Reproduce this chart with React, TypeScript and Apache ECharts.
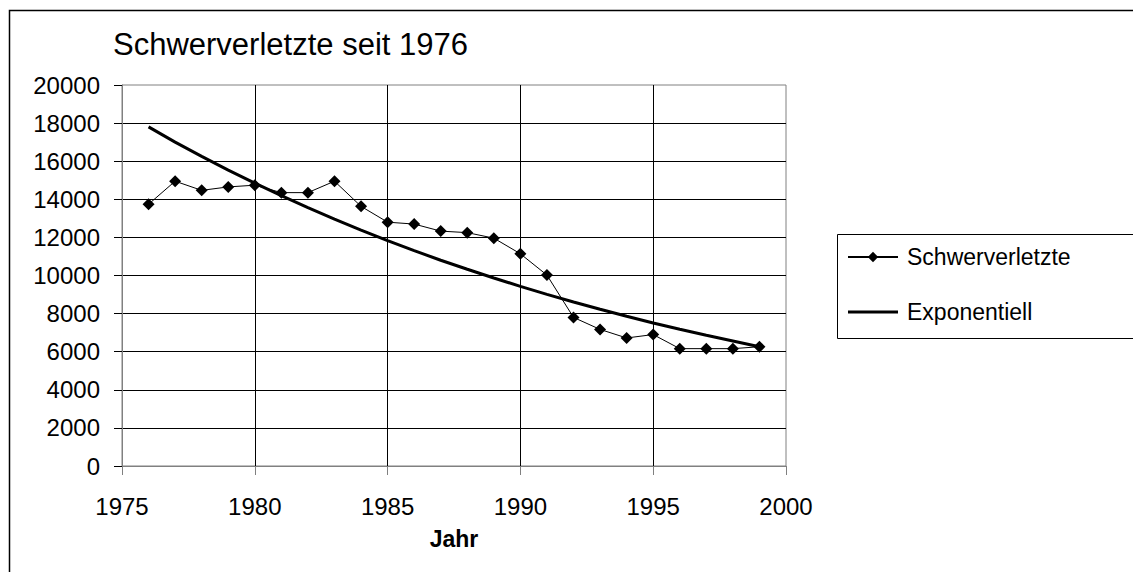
import React, { useEffect, useRef } from "react";
import * as echarts from "echarts";

const years = [1976, 1977, 1978, 1979, 1980, 1981, 1982, 1983, 1984, 1985, 1986, 1987, 1988, 1989, 1990, 1991, 1992, 1993, 1994, 1995, 1996, 1997, 1998, 1999];
const schwerverletzte = [13740, 14950, 14470, 14650, 14740, 14350, 14350, 14950, 13630, 12800, 12700, 12330, 12250, 11960, 11140, 10020, 7800, 7170, 6720, 6900, 6160, 6160, 6160, 6260];
const exponentiell = [17800, 17000, 16250, 15530, 14850, 14190, 13560, 12960, 12380, 11830, 11310, 10800, 10330, 9870, 9430, 9010, 8610, 8230, 7860, 7510, 7180, 6860, 6560, 6260];
const seriesNames = ["Schwerverletzte", "Exponentiell"];
const titleText = "Schwerverletzte seit 1976";
const xAxisName = "Jahr";

const FONT = "'Liberation Sans', Arial, sans-serif";

export default function App() {
  const ref = useRef<HTMLDivElement>(null);
  useEffect(() => {
    if (!ref.current) return;
    const chart = echarts.init(ref.current, null, { renderer: "svg" });
    const option = {
      animation: false,
      backgroundColor: "#ffffff",
      textStyle: { fontFamily: FONT },
      title: {
        text: titleText,
        left: 113,
        top: 29,
        padding: 0,
        textStyle: { fontFamily: FONT, fontSize: 31, fontWeight: "normal", color: "#000" },
      },
      grid: {
        left: 122,
        right: 347,
        top: 85,
        bottom: 106,
        show: true,
        borderColor: "#808080",
        borderWidth: 1,
        backgroundColor: "transparent",
      },
      legend: {
        orient: "vertical",
        left: 847,
        top: 245,
        itemWidth: 50,
        itemHeight: 13,
        itemGap: 31,
        padding: 0,
        data: [
          { name: seriesNames[0] },
          { name: seriesNames[1], icon: "path://M0,0H50V3H0Z" },
        ],
        textStyle: { fontFamily: FONT, fontSize: 23, color: "#000", lineHeight: 24, padding: [0, 0, 0, 4] },
      },
      xAxis: {
        type: "value",
        min: 1975,
        max: 2000,
        interval: 5,
        name: xAxisName,
        nameLocation: "middle",
        nameGap: 61,
        nameTextStyle: { fontFamily: FONT, fontSize: 23, fontWeight: "bold", color: "#000" },
        axisLine: { show: true, lineStyle: { color: "#808080", width: 1 } },
        axisTick: { show: true, length: 9, lineStyle: { color: "#808080" } },
        axisLabel: { fontFamily: FONT, fontSize: 24, color: "#000", margin: 28, formatter: (v: number) => String(v) },
        splitLine: { show: true, showMinLine: false, showMaxLine: false, lineStyle: { color: "#000", width: 1 } },
      },
      yAxis: {
        type: "value",
        min: 0,
        max: 20000,
        interval: 2000,
        axisLine: { show: true, lineStyle: { color: "#808080", width: 1 } },
        axisTick: { show: true, length: 8, lineStyle: { color: "#000" } },
        axisLabel: { fontFamily: FONT, fontSize: 24, color: "#000", margin: 22, formatter: (v: number) => String(v) },
        splitLine: { show: true, showMinLine: false, showMaxLine: false, lineStyle: { color: "#000", width: 1 } },
      },
      graphic: [
        {
          type: "rect",
          shape: { x: 9.5, y: 10.5, width: 1300, height: 1000 },
          style: { fill: "none", stroke: "#000", lineWidth: 1.5 },
          silent: true,
        },
        {
          type: "rect",
          shape: { x: 837.5, y: 234.5, width: 400, height: 104 },
          style: { fill: "none", stroke: "#000", lineWidth: 1 },
          silent: true,
        },
      ],
      series: [
        {
          name: seriesNames[1],
          type: "line",
          data: years.map((y, i) => [y, exponentiell[i]]),
          symbol: "none",
          lineStyle: { color: "#000", width: 3 },
          itemStyle: { color: "#000" },
          z: 2,
        },
        {
          name: seriesNames[0],
          type: "line",
          data: years.map((y, i) => [y, schwerverletzte[i]]),
          symbol: "diamond",
          symbolSize: 12,
          lineStyle: { color: "#000", width: 1 },
          itemStyle: { color: "#000" },
          z: 3,
        },
      ],
    };
    chart.setOption(option);
    return () => chart.dispose();
  }, []);
  return (
    <div
      ref={ref}
      style={{ position: "fixed", left: 0, top: 0, width: 1133, height: 572 }}
    />
  );
}
